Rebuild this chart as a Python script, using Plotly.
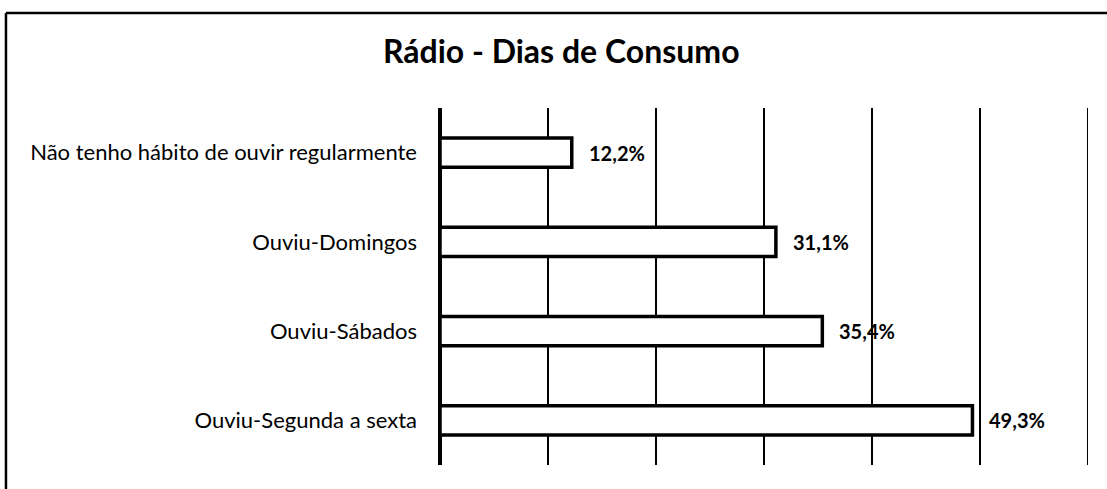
import plotly.graph_objects as go

categories = ["Não tenho hábito de ouvir regularmente", "Ouviu-Domingos", "Ouviu-Sábados", "Ouviu-Segunda a sexta"]
values = [12.2, 31.1, 35.4, 49.3]
labels = ["12,2%", "31,1%", "35,4%", "49,3%"]
title_text = "Rádio - Dias de Consumo"
x_max = 60
x_step = 10

FONT = "Lato, Open Sans, sans-serif"

fig = go.Figure()
fig.add_trace(go.Bar(
    y=categories, x=values, orientation="h",
    marker=dict(color="white", line=dict(color="black", width=3.5)),
    width=0.33, showlegend=False, hoverinfo="skip",
))

for c, v, t in zip(categories, values, labels):
    fig.add_annotation(x=v, y=c, text=f"<b>{t}</b>", showarrow=False,
                       xanchor="left", xshift=15, font=dict(size=20, color="black", family=FONT))

# last gridline at the axis maximum
fig.add_shape(type="line", xref="x", yref="paper", x0=x_max, x1=x_max, y0=0, y1=1,
              line=dict(color="black", width=2))

# outer frame (top and left edges visible)
fig.add_shape(type="line", xref="paper", yref="paper", x0=-0.6698, x1=1.05, y0=1.266, y1=1.266,
              line=dict(color="black", width=2.5))
fig.add_shape(type="line", xref="paper", yref="paper", x0=-0.6698, x1=-0.6698, y0=1.266, y1=-0.1,
              line=dict(color="black", width=2.5))

fig.update_layout(
    width=1107, height=489,
    margin=dict(l=440, r=19, t=108, b=24),
    plot_bgcolor="white", paper_bgcolor="white",
    title=dict(text=f"<b>{title_text}</b>", x=0.507, xanchor="center", y=1 - 52 / 489, yanchor="middle",
               yref="container", font=dict(size=32, color="black", family=FONT)),
    xaxis=dict(range=[0, x_max], dtick=x_step, showgrid=True, gridcolor="black", gridwidth=2,
               showticklabels=False, zeroline=True, zerolinecolor="black", zerolinewidth=3.5, fixedrange=True),
    yaxis=dict(autorange="reversed", showgrid=False, ticks="", ticklabelstandoff=22,
               tickfont=dict(size=22, color="black", family=FONT), fixedrange=True),
    bargap=0.67,
)

fig.write_html("out.html", config={"displayModeBar": False},
               post_script="document.body.style.margin='0px';")
